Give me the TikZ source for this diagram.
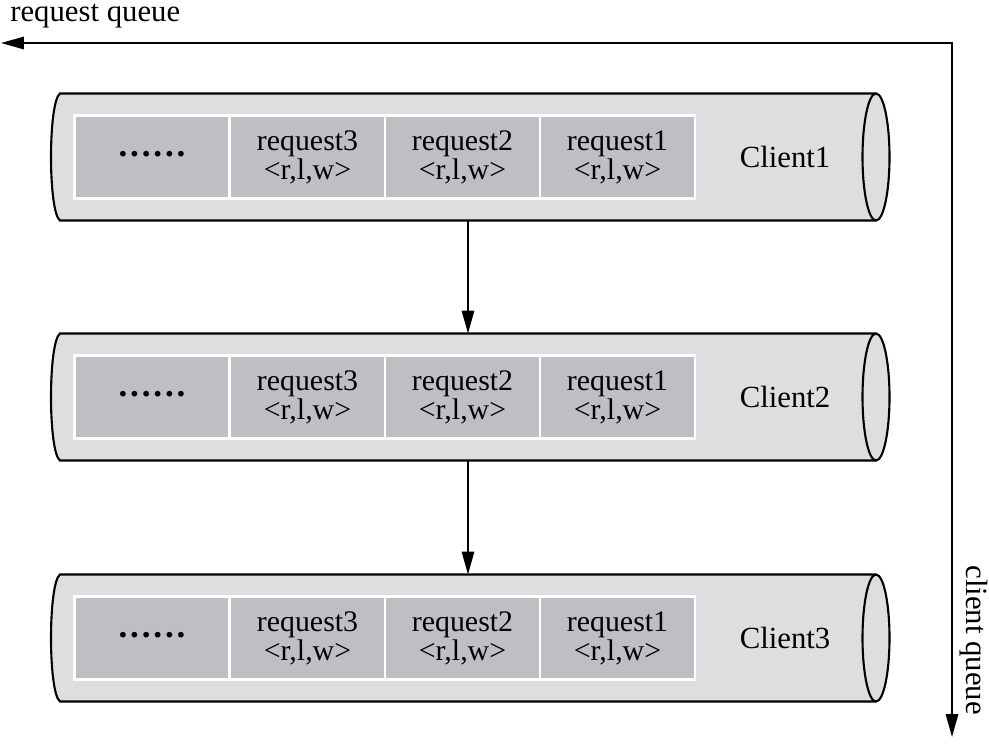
\documentclass[tikz,border=0pt]{standalone}
\usepackage{fontspec}
\setmainfont{Liberation Serif}
\usetikzlibrary{arrows.meta}
\definecolor{pipegray}{RGB}{221,222,224}
\definecolor{cellgray}{RGB}{190,191,194}
\tikzset{
  qtip/.tip={Triangle[length=13pt,width=7pt]},
  arr/.style={-{qtip}, line width=1.1pt},
  pipe/.style={fill=pipegray, draw=black, line width=1.2pt},
  cell/.style={fill=cellgray, draw=white, line width=1.2pt, minimum width=3.1cm,
    minimum height=1.66cm, inner sep=0pt, align=center, font=\fontsize{17}{16.5}\selectfont},
  lbl/.style={font=\fontsize{17.5}{17}\selectfont, inner sep=0pt}
}
\newcommand{\dotrow}{\textbf{.\kern1.6pt.\kern1.6pt.\kern1.6pt.\kern1.6pt.\kern1.6pt.}}

\begin{document}
\begin{tikzpicture}[x=0.02cm, y=-0.02cm]
  \useasboundingbox (0,0) rectangle (989,746);
  % the three clients
  \foreach \i/\m in {1/157, 2/397, 3/638} {
    \filldraw[pipe] (876,\m-63.5) -- (60,\m-63.5) .. controls (48,\m-55) and (48,\m+55) .. (60,\m+63.5) -- (876,\m+63.5);
    \filldraw[pipe] (876,\m) ellipse [x radius=13.5, y radius=63.5];
    \node[cell] (r\i c1) at (152,\m) {\raisebox{3pt}{\fontsize{20}{20}\selectfont\dotrow}};
    \foreach \j/\x/\k in {2/307.5/3, 3/462.5/2, 4/617.5/1}
      \node[cell] (r\i c\j) at (\x,\m) {request\k\\<r,l,w>};
    \node[lbl] (client\i) at (785,\m) {Client\i};
    \coordinate (top\i) at (468,\m-63.5);
    \coordinate (bot\i) at (468,\m+63.5);
  }
  \draw[arr] (bot1) -- (top2);
  \draw[arr] (bot2) -- (top3);
  % the two queues
  \coordinate (turn) at (952,43);
  \coordinate (rqtip) at (1,43);
  \coordinate (cqtip) at (952,737);
  \draw[line width=1.1pt, {qtip}-{qtip}] (rqtip) -- (turn) -- (cqtip);
  \node[lbl, anchor=base west] (rqlabel) at (10,22) {request queue};
  \node[lbl, rotate=-90, anchor=base west] (cqlabel) at (966,565) {client queue};
\end{tikzpicture}
\end{document}
